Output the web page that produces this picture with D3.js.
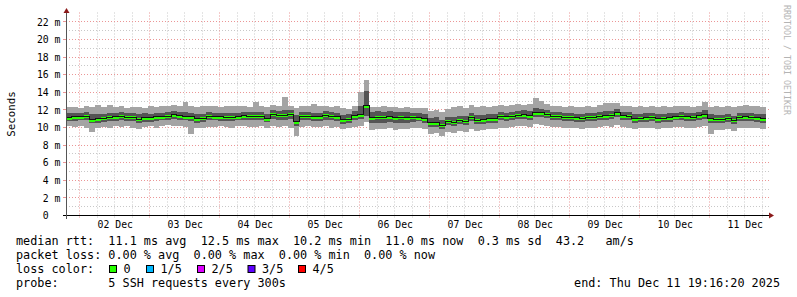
<!DOCTYPE html>
<html><head><meta charset="utf-8">
<script src="https://cdn.jsdelivr.net/npm/d3@7"></script>
<style>
html,body{margin:0;padding:0;background:#fff;}
svg{display:block;}
text{font-family:"DejaVu Sans Mono",monospace;}
</style></head><body>
<svg id="chart" width="797" height="297"></svg>
<script>
// ---------------- DATA ----------------
const startTime = new Date(2025, 11, 1, 19, 16, 20);
const endTime = new Date(2025, 11, 11, 19, 16, 20);
const stepHours = 2;
// median rtt (ms), one value per 2-hour bin
const medianMs = [
11.1, 11.2, 11.25, 11.3, 10.9, 11.0, 11.05, 11.15, 11.2, 11.3,
11.15, 11.15, 10.95, 11.1, 11.1, 11.2, 11.25, 11.3, 11.45, 11.35,
11.25, 11.2, 11.0, 11.05, 11.3, 11.25, 11.2, 11.15, 11.15, 11.25,
11.35, 11.3, 11.3, 11.3, 11.0, 11.5, 11.4, 11.4, 11.5, 10.65,
11.3, 11.3, 11.2, 11.2, 11.4, 11.3, 11.2, 10.9, 10.95, 11.35,
11.45, 12.5, 11.1, 11.15, 11.15, 11.2, 11.1, 11.15, 11.1, 11.15,
11.13, 11.0, 10.55, 10.55, 10.25, 10.7, 10.6, 10.8, 10.7, 11.15,
10.85, 10.9, 11.0, 11.0, 11.3, 11.2, 11.3, 11.4, 11.45, 11.35,
11.7, 11.7, 11.5, 11.3, 11.3, 11.15, 11.15, 11.1, 11.05, 11.15,
11.15, 11.3, 11.35, 11.4, 11.7, 11.35, 11.3, 11.0, 11.05, 11.1,
11.15, 11.0, 11.05, 11.1, 11.25, 11.3, 11.2, 11.15, 11.35, 11.45,
11.0, 10.95, 10.95, 11.05, 10.8, 11.15, 11.2, 11.15, 11.1, 11.0];
// 4th of 5 sorted pings (upper edge of dark smoke)
const ping4Ms = [
11.6, 11.7, 11.7, 11.75, 11.5, 11.5, 11.55, 11.6, 11.7, 11.75,
11.6, 11.65, 11.5, 11.6, 11.55, 11.65, 11.7, 11.8, 11.9, 11.8,
11.75, 11.7, 11.5, 11.55, 11.75, 11.7, 11.65, 11.6, 11.6, 11.7,
11.8, 11.75, 11.8, 11.75, 11.55, 11.95, 11.85, 12.0, 11.95, 11.4,
11.75, 11.75, 11.7, 11.65, 11.85, 11.75, 11.65, 11.45, 11.5, 11.85,
12.5, 14.1, 11.8, 11.85, 11.8, 11.85, 11.75, 11.8, 11.75, 11.7,
11.6, 11.5, 11.1, 11.15, 10.9, 11.25, 11.2, 11.35, 11.3, 11.6,
11.4, 11.45, 11.5, 11.55, 11.8, 11.7, 11.8, 11.9, 11.95, 11.9,
12.2, 12.15, 12.0, 11.8, 11.75, 11.6, 11.6, 11.55, 11.5, 11.6,
11.6, 11.75, 11.85, 11.9, 12.1, 11.8, 11.75, 11.5, 11.55, 11.6,
11.6, 11.5, 11.55, 11.6, 11.7, 11.8, 11.65, 11.6, 11.8, 11.95,
11.5, 11.45, 11.45, 11.55, 11.35, 11.6, 11.65, 11.6, 11.55, 11.5];
// 2nd of 5 sorted pings (lower edge of dark smoke)
const ping2Ms = [
10.7, 10.75, 10.8, 10.8, 10.5, 10.55, 10.6, 10.7, 10.75, 10.8,
10.7, 10.7, 10.5, 10.65, 10.65, 10.75, 10.8, 10.85, 10.95, 10.9,
10.8, 10.7, 10.55, 10.6, 10.85, 10.8, 10.75, 10.7, 10.7, 10.8,
10.9, 10.85, 10.85, 10.85, 10.6, 11.0, 10.9, 10.9, 11.0, 10.2,
10.85, 10.85, 10.75, 10.75, 10.9, 10.85, 10.75, 10.45, 10.5, 10.9,
10.95, 11.3, 10.5, 10.55, 10.55, 10.6, 10.5, 10.55, 10.5, 10.6,
10.7, 10.55, 10.1, 10.1, 9.8, 10.25, 10.15, 10.35, 10.25, 10.7,
10.4, 10.45, 10.55, 10.55, 10.85, 10.75, 10.85, 10.95, 11.0, 10.9,
11.2, 11.2, 11.05, 10.85, 10.85, 10.7, 10.7, 10.65, 10.6, 10.7,
10.7, 10.85, 10.9, 10.95, 11.2, 10.9, 10.85, 10.55, 10.6, 10.65,
10.7, 10.55, 10.6, 10.65, 10.8, 10.85, 10.75, 10.7, 10.9, 11.0,
10.5, 10.5, 10.5, 10.6, 10.35, 10.7, 10.75, 10.7, 10.65, 10.55];
// highest of 5 pings (upper edge of light smoke)
const ping5Ms = [
12.3, 12.35, 12.2, 12.5, 12.3, 12.55, 12.3, 12.6, 12.35, 12.4,
12.2, 12.35, 12.3, 12.25, 12.4, 12.35, 12.5, 12.45, 12.6, 12.5,
12.9, 12.45, 12.3, 12.4, 12.45, 12.4, 12.35, 12.5, 12.4, 12.45,
12.5, 12.35, 12.9, 12.4, 12.3, 12.55, 12.45, 13.5, 12.45, 12.2,
12.45, 12.4, 12.65, 12.4, 12.5, 12.35, 12.4, 12.25, 12.15, 12.45,
14.0, 15.4, 12.35, 12.3, 12.4, 12.3, 12.35, 12.25, 12.3, 12.2,
12.25, 12.2, 11.9, 12.0, 11.8, 12.1, 12.3, 12.4, 12.2, 12.6,
12.3, 12.4, 12.35, 12.5, 12.6, 12.5, 12.55, 12.65, 12.6, 12.7,
13.3, 13.0, 12.7, 12.5, 12.45, 12.35, 12.4, 12.3, 12.35, 12.4,
12.3, 12.55, 12.8, 12.8, 12.75, 12.5, 12.4, 12.3, 12.4, 12.35,
12.45, 12.3, 12.4, 12.35, 12.5, 12.45, 12.4, 12.35, 12.5, 12.9,
12.3, 12.4, 12.35, 12.45, 12.35, 12.5, 12.55, 12.45, 12.4, 12.3];
// lowest of 5 pings (lower edge of light smoke)
const ping1Ms = [
10.2, 10.1, 10.15, 10.0, 9.5, 10.0, 10.05, 9.95, 10.2, 10.1,
10.15, 10.0, 9.8, 10.1, 10.15, 9.95, 10.2, 10.25, 10.2, 10.15,
10.1, 9.3, 9.9, 10.0, 10.1, 10.05, 10.2, 10.1, 10.0, 10.15,
10.2, 10.1, 10.05, 10.15, 9.9, 10.2, 10.1, 10.15, 10.0, 9.0,
10.1, 10.2, 10.05, 10.1, 10.15, 10.0, 10.05, 9.8, 9.9, 10.1,
10.2, 10.6, 9.75, 9.85, 9.8, 9.9, 9.75, 9.85, 9.8, 9.9,
9.95, 9.8, 9.3, 9.4, 9.0, 9.45, 9.4, 9.55, 9.5, 9.8,
9.6, 9.7, 9.8, 9.85, 10.0, 9.95, 10.1, 10.15, 10.2, 10.1,
10.35, 10.3, 10.2, 10.05, 10.1, 9.95, 9.9, 9.95, 9.85, 9.95,
10.0, 10.1, 10.15, 10.1, 10.3, 10.1, 10.0, 9.8, 9.9, 9.95,
10.0, 9.85, 9.9, 9.95, 10.05, 10.1, 10.0, 9.95, 10.1, 10.2,
9.3, 9.7, 9.75, 9.85, 9.6, 9.9, 10.0, 9.9, 9.9, 9.85];
const yTickValues = [0, 2, 4, 6, 8, 10, 12, 14, 16, 18, 20, 22];
const yMinorValues = [1, 3, 5, 7, 9, 11, 13, 15, 17, 19, 21];
const legendLines = [
  "median rtt:  11.1 ms avg  12.5 ms max  10.2 ms min  11.0 ms now  0.3 ms sd  43.2   am/s",
  "packet loss: 0.00 % avg  0.00 % max  0.00 % min  0.00 % now"
];
const lossLabels = ["0", "1/5", "2/5", "3/5", "4/5"];
const lossColors = ["#26ff00", "#00b8ff", "#dd00ff", "#5e00ff", "#ff0000"];
const probeText = "probe:       5 SSH requests every 300s";
const endText = "end: Thu Dec 11 19:16:20 2025";
const yAxisTitle = "Seconds";
const watermark = "RRDTOOL / TOBI OETIKER";

// ---------------- DRAW ----------------
const svg = d3.select("#chart");
const X0 = 66, X1 = 766, YB = 215.5, YT = 13.1;
const xs = d3.scaleTime().domain([startTime, endTime]).range([X0, X1]);
const ys = d3.scaleLinear().domain([0, 23]).range([YB, YT]);
const crisp = v => Math.floor(v) + 0.5;
const gridGrey = "#c8c8c8", gridRed = "#eb9696";

// grid
const gGrid = svg.append("g");
const minorTimes = d3.timeHour.every(6).range(startTime, endTime).filter(d => d.getHours() !== 0);
const majorTimes = d3.timeDay.range(d3.timeDay.ceil(startTime), endTime);
yMinorValues.forEach(v => {
  gGrid.append("line").attr("x1", X0).attr("x2", 770).attr("y1", crisp(ys(v))).attr("y2", crisp(ys(v)))
    .attr("stroke", gridGrey).attr("stroke-dasharray", "1,2");
});
minorTimes.forEach(t => {
  const x = crisp(xs(t));
  gGrid.append("line").attr("x1", x).attr("x2", x).attr("y1", 12.5).attr("y2", 218)
    .attr("stroke", gridGrey).attr("stroke-dasharray", "1,2");
});
yTickValues.filter(v => v > 0).forEach(v => {
  gGrid.append("line").attr("x1", X0).attr("x2", 770).attr("y1", crisp(ys(v))).attr("y2", crisp(ys(v)))
    .attr("stroke", gridRed).attr("stroke-dasharray", "1,2");
  gGrid.append("line").attr("x1", 63).attr("x2", 66).attr("y1", crisp(ys(v))).attr("y2", crisp(ys(v)))
    .attr("stroke", gridRed);
});
majorTimes.forEach(t => {
  const x = crisp(xs(t));
  gGrid.append("line").attr("x1", x).attr("x2", x).attr("y1", 12.5).attr("y2", 218)
    .attr("stroke", gridRed).attr("stroke-dasharray", "1,2");
});

// smoke + median
const bins = medianMs.map((m, i) => ({
  t0: d3.timeHour.offset(startTime, i * stepHours),
  t1: d3.timeHour.offset(startTime, (i + 1) * stepHours),
  med: m, p1: ping1Ms[i], p2: ping2Ms[i], p4: ping4Ms[i], p5: ping5Ms[i]
}));
const gData = svg.append("g").attr("shape-rendering", "crispEdges");
const bx = d => Math.round(xs(d.t0));
const bw = d => Math.round(xs(d.t1)) - Math.round(xs(d.t0));
gData.selectAll("rect.light").data(bins).join("rect").attr("class", "light")
  .attr("x", bx).attr("width", bw)
  .attr("y", d => Math.round(ys(d.p5))).attr("height", d => Math.round(ys(d.p1)) - Math.round(ys(d.p5)))
  .attr("fill", "#a4a4a4");
gData.selectAll("rect.dark").data(bins).join("rect").attr("class", "dark")
  .attr("x", bx).attr("width", bw)
  .attr("y", d => Math.round(ys(d.p4))).attr("height", d => Math.round(ys(d.p2)) - Math.round(ys(d.p4)))
  .attr("fill", "#545454");
const stepPts = bins.map(d => [d.t0, d.med]).concat([[endTime, bins[bins.length - 1].med]]);
svg.append("path").datum(stepPts)
  .attr("d", d3.line().x(d => xs(d[0])).y(d => crisp(ys(d[1]))).curve(d3.curveStepAfter))
  .attr("fill", "none").attr("stroke", "#111").attr("stroke-width", 1).attr("shape-rendering", "crispEdges");
gData.selectAll("rect.med").data(bins).join("rect").attr("class", "med")
  .attr("x", bx).attr("width", bw)
  .attr("y", d => Math.round(ys(d.med)) - 1).attr("height", 3)
  .attr("fill", lossColors[0]);

// axes lines and arrows
svg.append("line").attr("x1", 63).attr("x2", 771).attr("y1", 215.5).attr("y2", 215.5).attr("stroke", "#000");
svg.append("line").attr("x1", 66.5).attr("x2", 66.5).attr("y1", 219).attr("y2", 12).attr("stroke", "#555");
svg.append("path").attr("d", "M769,212.5 L774,215.5 L769,218.5 Z").attr("fill", "#8b1a1a");
svg.append("path").attr("d", "M63.5,13 L66.5,8 L69.5,13 Z").attr("fill", "#8b1a1a");

// x labels
const noonTimes = d3.timeHour.range(startTime, endTime).filter(d => d.getHours() === 12);
const xAxis = svg.append("g").attr("transform", "translate(0,220.5)")
  .call(d3.axisBottom(xs).tickValues(noonTimes).tickFormat(d3.timeFormat("%d %b")).tickSize(0).tickPadding(0));
xAxis.select(".domain").remove();
xAxis.selectAll("text").attr("font-family", "DejaVu Sans Mono").attr("font-size", "9.8px").attr("fill", "#000")
  .attr("dy", "0.78em");

// y labels
const yAxis = svg.append("g").attr("transform", "translate(60.5,0)")
  .call(d3.axisLeft(ys).tickValues(yTickValues).tickFormat(d => d === 0 ? "0\u00a0\u00a0" : d + " m").tickSize(0).tickPadding(0));
yAxis.select(".domain").remove();
yAxis.selectAll("text").attr("font-family", "DejaVu Sans Mono").attr("font-size", "9.8px").attr("fill", "#000");

// y title
svg.append("text").attr("transform", "translate(14.5,114) rotate(-90)").attr("text-anchor", "middle")
  .attr("font-size", "10.8px").attr("fill", "#000").text(yAxisTitle);

// watermark
svg.append("text").attr("transform", "translate(784,5) rotate(90)").attr("font-size", "8.3px")
  .attr("fill", "#b4b4b4").text(watermark);

// legend
const legFont = "11.8px";
legendLines.forEach((s, i) => {
  svg.append("text").attr("x", 16).attr("y", 245 + i * 14).attr("font-size", legFont)
    .attr("xml:space", "preserve").style("white-space", "pre").text(s);
});
svg.append("text").attr("x", 16).attr("y", 273).attr("font-size", legFont).text("loss color:");
const boxX = [109, 146, 197, 247.5, 298];
lossLabels.forEach((l, i) => {
  svg.append("rect").attr("x", boxX[i] + 0.5).attr("y", 265.5).attr("width", 7).attr("height", 7)
    .attr("fill", lossColors[i]).attr("stroke", "#000").attr("stroke-width", 1);
  svg.append("text").attr("x", boxX[i] + 14.5).attr("y", 273).attr("font-size", legFont).text(l);
});
svg.append("text").attr("x", 16).attr("y", 287).attr("font-size", legFont)
  .style("white-space", "pre").text(probeText);
svg.append("text").attr("x", 780).attr("y", 287).attr("text-anchor", "end").attr("font-size", legFont)
  .text(endText);
</script>
</body></html>
